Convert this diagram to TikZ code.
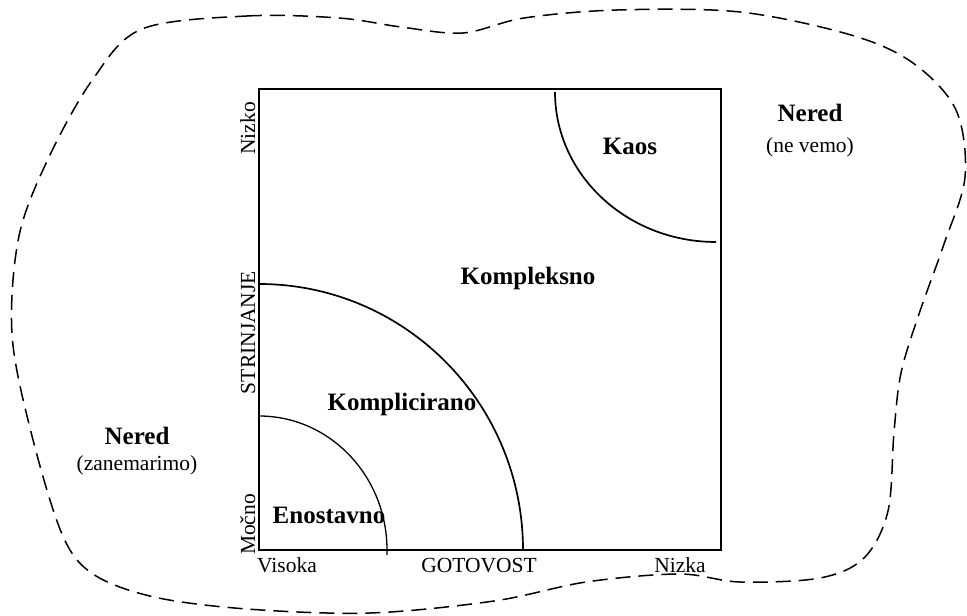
\documentclass[tikz,border=0pt]{standalone}
\usepackage{fontspec}
\setmainfont{Liberation Serif}
\begin{document}
\begin{tikzpicture}[x=1pt,y=1pt,
  boxline/.style={line width=1.8pt},
  arcline/.style={line width=1.7pt},
  thinarc/.style={line width=1.3pt},
  blob/.style={line width=1.5pt, dash pattern=on 15pt off 8pt},
  lbl/.style={font=\fontsize{21.5}{24}\selectfont, inner sep=0pt, anchor=base},
  zone/.style={font=\fontsize{25}{28}\selectfont\bfseries, inner sep=0pt, anchor=base},
  axl/.style={lbl, rotate=90}]
\useasboundingbox (0,0) rectangle (967,616);
% outer dashed region
\draw[blob] plot[smooth cycle, tension=0.55] coordinates {
 (142,587) (247,600) (339,598) (401,589) (463,583) (524,598) (617,606) (740,604)
 (851,581) (913,553) (956,506) (965,439) (944,372) (919,302) (901,243) (894,184)
 (888,105) (864,58) (820,38) (740,34) (679,42) (586,34) (494,15) (370,3)
 (247,7) (154,19) (93,42) (62,82) (31,184) (12,282) (19,380) (49,459) (93,537)};
% frame
\coordinate (bl) at (259,66);
\coordinate (tr) at (721,527);
\draw[boxline] (bl) rectangle (tr);
% arcs
\coordinate (s1) at (259,200);
\coordinate (s2) at (259,332);
\coordinate (s3) at (555,524);
\draw[thinarc] (s1) arc[start angle=90, end angle=0, x radius=128, y radius=134] -- ++(0,-5);
\draw[arcline] (s2) arc[start angle=90, end angle=0, x radius=264, y radius=266];
\draw[arcline] (s3) arc[start angle=180, end angle=270, x radius=161, y radius=150];
% zone labels
\node[zone] (enost) at (329,92) {Enostavno};
\node[zone] (kompl) at (402,205) {Komplicirano};
\node[zone] (kompk) at (528,331.5) {Kompleksno};
\node[zone] (kaos) at (630,461) {Kaos};
\node[zone] (nered1) at (810,494) {Nered};
\node[lbl] (nevemo) at (810,463) {(ne vemo)};
\node[zone] (nered2) at (137,171) {Nered};
\node[lbl] (zanem) at (137,145) {(zanemarimo)};
% axis labels
\node[lbl] (visoka) at (287,43) {Visoka};
\node[lbl] (gotov) at (479,43) {GOTOVOST};
\node[lbl] (nizka) at (680,43) {Nizka};
\node[axl] (nizko) at (255,487.5) {Nizko};
\node[axl] (strin) at (255,283.5) {STRINJANJE};
\node[axl] (mocno) at (255,91.5) {Močno};
\end{tikzpicture}
\end{document}
